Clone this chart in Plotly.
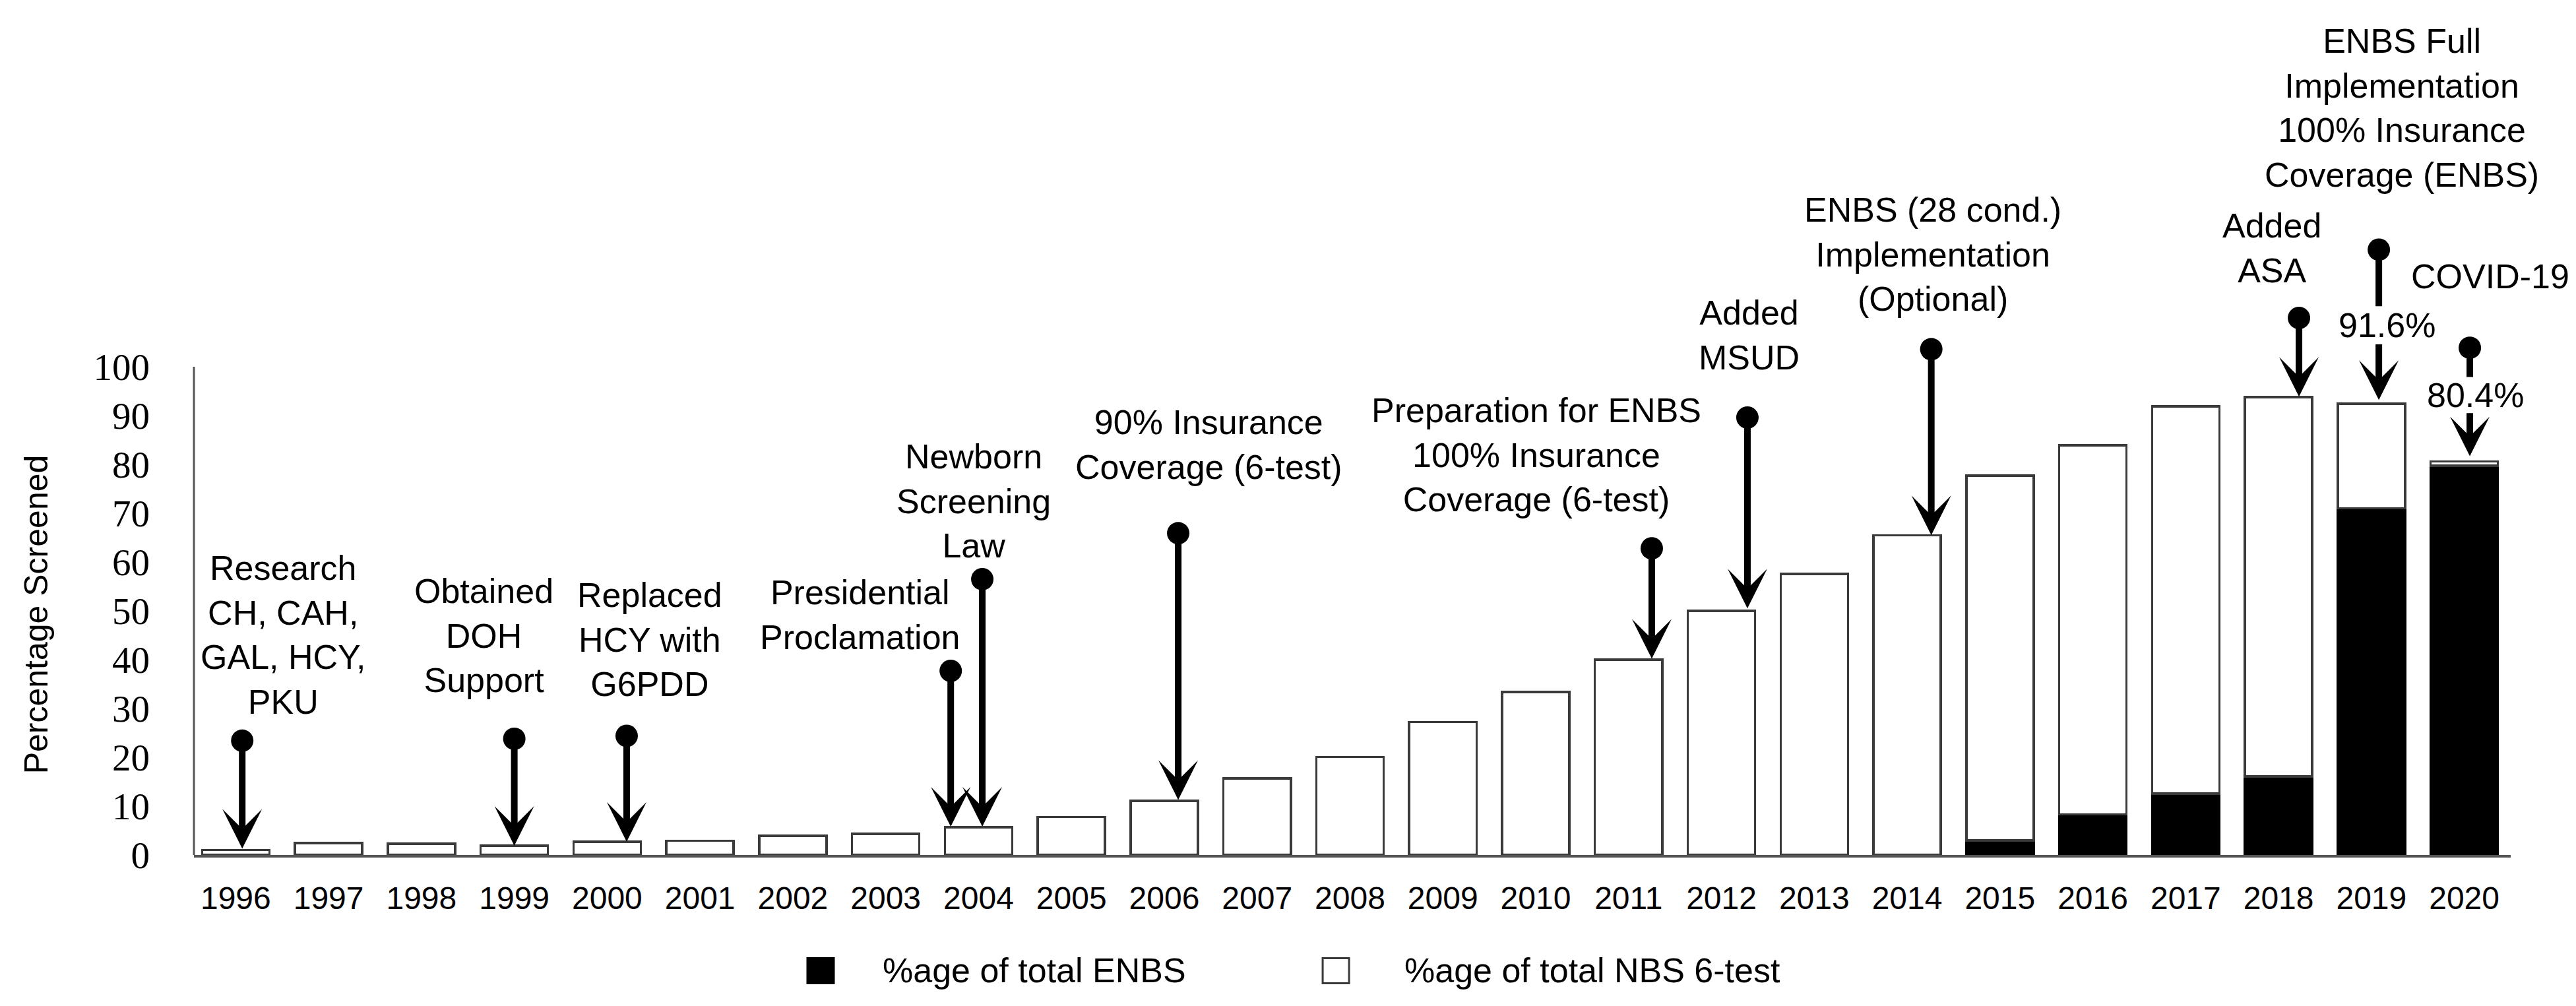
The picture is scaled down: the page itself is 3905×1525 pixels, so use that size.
import plotly.graph_objects as go

years = list(range(1996, 2021))

# %age of total ENBS (black) and %age of total NBS 6-test (white), stacked
enbs = [0, 0, 0, 0, 0, 0, 0, 0, 0, 0, 0, 0, 0, 0, 0, 0, 0, 0, 0,
        3.0, 8.3, 12.6, 16.1, 71.0, 79.7]
nbs6 = [1.0, 2.4, 2.3, 1.9, 2.7, 2.9, 3.9, 4.3, 5.7, 7.8, 11.1, 15.7, 20.1,
        27.2, 33.4, 40.0, 50.0, 57.6, 65.5, 74.7, 75.6, 79.3, 77.7, 21.4, 0.9]

y_ticks = [0, 10, 20, 30, 40, 50, 60, 70, 80, 90, 100]

# milestone labels
event_text = [
    "Research<br>CH, CAH,<br>GAL, HCY,<br>PKU",
    "Obtained<br>DOH<br>Support",
    "Replaced<br>HCY with<br>G6PDD",
    "Presidential<br>Proclamation",
    "Newborn<br>Screening<br>Law",
    "90% Insurance<br>Coverage (6-test)",
    "Preparation for ENBS<br>100% Insurance<br>Coverage (6-test)",
    "Added<br>MSUD",
    "ENBS (28 cond.)<br>Implementation<br>(Optional)",
    "Added<br>ASA",
    "ENBS Full<br>Implementation<br>100% Insurance<br>Coverage (ENBS)",
    "COVID-19",
]
event_x = [1996.51, 1998.67, 2000.46, 2002.72, 2003.95, 2006.48,
           2010.01, 2012.30, 2014.28, 2017.93, 2019.33, 2020.28]
event_y = [45.1, 45.0, 44.1, 49.2, 72.5, 84.0, 81.9, 106.5, 123.0, 124.3, 153.0, 118.5]

# lollipop arrows: dot on top, head on the bar
arrow_x = [1996.07, 1999.0, 2000.21, 2003.70, 2004.04, 2006.15, 2011.25, 2012.28, 2014.26, 2018.22]
arrow_dot = [23.4, 23.8, 24.4, 37.7, 56.5, 65.9, 62.8, 89.6, 103.6, 110.0]
arrow_tip = [1.3, 1.9, 2.7, 5.8, 5.8, 11.3, 40.2, 50.5, 65.5, 93.9]

# arrows broken by a value label (2019, 2020)
split_x = [2019.08, 2020.06]
split_dot = [124.0, 103.9]
split_stem_end = [112.4, 97.9]
split_label = ["91.6%", "80.4%"]
split_label_x = [2019.17, 2020.12]
split_label_y = [108.5, 94.2]
split_arrow_start = [104.8, 90.7]
split_tip = [93.2, 81.7]

SANS = "Liberation Sans"
SERIF = "Liberation Serif"
OUTLINE = "#3a3a3a"
AXIS = "#555555"

fig = go.Figure()
fig.add_trace(go.Bar(x=years, y=enbs, name="%age of total ENBS",
                     marker=dict(color="black", line=dict(color="black", width=3.5))))
fig.add_trace(go.Bar(x=years, y=nbs6, name="%age of total NBS 6-test",
                     marker=dict(color="white", line=dict(color=OUTLINE, width=3.5))))

# dots of the lollipops
fig.add_trace(go.Scatter(x=arrow_x + split_x, y=arrow_dot + split_dot, mode="markers",
                         marker=dict(size=34, color="black"), cliponaxis=False,
                         showlegend=False, hoverinfo="skip"))

annotations = []
for t, x, y in zip(event_text, event_x, event_y):
    annotations.append(dict(x=x, y=y, xref="x", yref="y", text=t, showarrow=False,
                            font=dict(family=SANS, size=52, color="black"),
                            xanchor="center", yanchor="middle"))

for x, y0, y1 in zip(arrow_x, arrow_dot, arrow_tip):
    annotations.append(dict(x=x, y=y1, ax=x, ay=y0, xref="x", yref="y", axref="x", ayref="y",
                            text="", showarrow=True, arrowhead=3, arrowsize=1.0,
                            arrowwidth=10, arrowcolor="black"))

for i in range(len(split_x)):
    x = split_x[i]
    # stem from dot down to the label
    annotations.append(dict(x=x, y=split_stem_end[i], ax=x, ay=split_dot[i],
                            xref="x", yref="y", axref="x", ayref="y", text="",
                            showarrow=True, arrowhead=0, arrowwidth=10, arrowcolor="black"))
    annotations.append(dict(x=split_label_x[i], y=split_label_y[i], xref="x", yref="y",
                            text=split_label[i], showarrow=False,
                            font=dict(family=SANS, size=52, color="black")))
    annotations.append(dict(x=x, y=split_tip[i], ax=x, ay=split_arrow_start[i],
                            xref="x", yref="y", axref="x", ayref="y", text="",
                            showarrow=True, arrowhead=3, arrowsize=1.0,
                            arrowwidth=10, arrowcolor="black"))

# y title centred on the 0-100 part of the axis
annotations.append(dict(x=-0.068, y=49.3, xref="paper", yref="y", text="Percentage Screened",
                        textangle=-90, showarrow=False, xanchor="center", yanchor="middle",
                        font=dict(family=SANS, size=50, color="black")))

# y axis line only spans 0-100, the space above holds the labels
shapes = [dict(type="line", xref="paper", yref="y", x0=0, x1=0, y0=0, y1=100,
               line=dict(color=AXIS, width=3))]

# legend drawn by hand so the swatches can be large
legend_names = ["%age of total ENBS", "%age of total NBS 6-test"]
legend_fill = ["black", "white"]
legend_box_x = [0.2705, 0.4929]
legend_text_x = [0.2967, 0.5219]
legend_y = -0.1395
for name, fill, bx, tx in zip(legend_names, legend_fill, legend_box_x, legend_text_x):
    shapes.append(dict(type="rect", xref="paper", yref="paper", xsizemode="pixel",
                       ysizemode="pixel", xanchor=bx, yanchor=legend_y,
                       x0=-20, x1=20, y0=-19, y1=19, fillcolor=fill,
                       line=dict(color=OUTLINE if fill == "white" else "black", width=3)))
    annotations.append(dict(x=tx, y=legend_y, xref="paper", yref="paper", text=name,
                            showarrow=False, xanchor="left", yanchor="middle",
                            font=dict(family=SANS, size=52, color="black")))

fig.update_layout(
    width=3905, height=1525,
    margin=dict(l=286, r=107, t=30, b=237),
    barmode="stack", bargap=0.275,
    plot_bgcolor="white", paper_bgcolor="white",
    showlegend=False,
    annotations=annotations, shapes=shapes,
)
fig.update_xaxes(range=[1995.55, 2020.5], tickmode="array", tickvals=years,
                 ticktext=[str(y) for y in years], showgrid=False, zeroline=False,
                 showline=True, linecolor=AXIS, linewidth=4, ticks="",
                 ticklabelstandoff=20, tickfont=dict(family=SANS, size=48, color="black"))
fig.update_yaxes(range=[0, 170], tickmode="array", tickvals=y_ticks, showgrid=False,
                 zeroline=False, showline=False, ticks="",
                 ticklabelstandoff=66, tickfont=dict(family=SERIF, size=57, color="black"))

fig.write_html("out.html")
